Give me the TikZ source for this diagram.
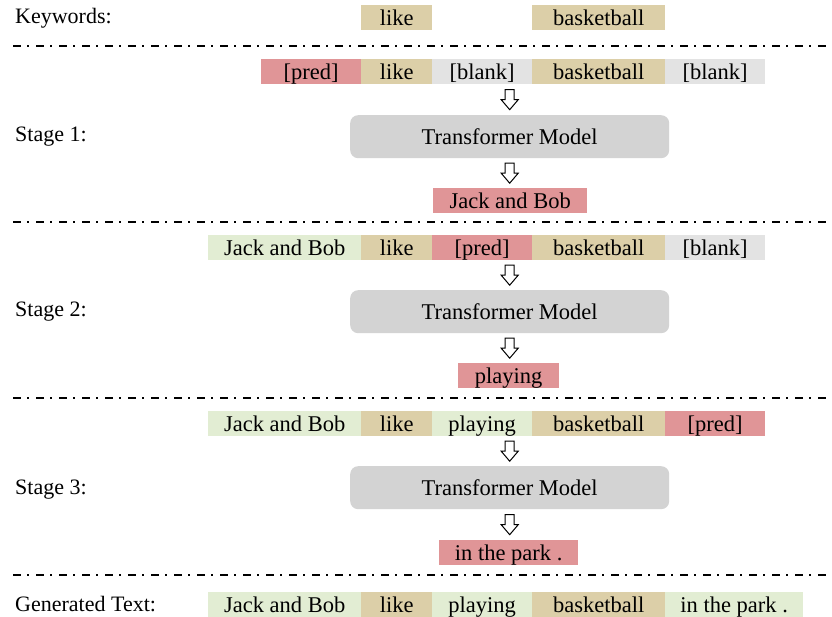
\documentclass[tikz,border=0pt]{standalone}
\usepackage{fontspec}
\setmainfont{Liberation Serif}
\usetikzlibrary{positioning,calc}
\definecolor{predc}{HTML}{E09597}
\definecolor{tanc}{HTML}{DCCFA8}
\definecolor{blankc}{HTML}{E3E3E3}
\definecolor{greenc}{HTML}{E2EDD3}
\definecolor{modelc}{HTML}{D3D3D3}
\tikzset{
  tok/.style={anchor=north west, inner sep=0pt, minimum height=25pt, text height=20pt, text depth=5pt, font=\fontsize{22.5}{25}\selectfont},
  model/.style={anchor=north west, inner sep=0pt, fill=modelc, rounded corners=8pt, minimum width=319pt, minimum height=43pt, font=\fontsize{22.5}{25}\selectfont},
  lbl/.style={anchor=west, inner sep=0pt, font=\fontsize{22}{25}\selectfont},
  sep/.style={line width=2pt, dash pattern=on 8pt off 6pt on 2pt off 7pt},
  barrow/.style={draw=black, fill=white, line width=1pt}
}
\newcommand{\tk}[6]{\node[tok, fill=#5, minimum width={#3-#2}] (#1) at (#2,#4) {#6};}
\newcommand{\blk}[1]{\draw[barrow] ($(#1)+(-4.5,-10)$) -- ($(#1)+(4.5,-10)$) -- ($(#1)+(4.5,0)$) -- ($(#1)+(8.5,0)$) -- ($(#1)+(0,10)$) -- ($(#1)+(-8.5,0)$) -- ($(#1)+(-4.5,0)$) -- cycle;}
\begin{document}
\begin{tikzpicture}[x=1pt,y=-1pt]
\useasboundingbox (0,0) rectangle (832,617);
% Keywords
\node[lbl] (lk) at (15,18) {Keywords:};
\tk{k1}{361}{432}{5}{tanc}{like}
\tk{k2}{532}{665}{5}{tanc}{basketball}
\coordinate (d1a) at (13,46); \coordinate (d1b) at (832,46);
\draw[sep] (d1a) -- (d1b);
% Stage 1
\node[lbl] (l1) at (15,137) {Stage 1:};
\tk{a1}{261}{361}{59}{predc}{[pred]}
\tk{a2}{361}{432}{59}{tanc}{like}
\tk{a3}{432}{532}{59}{blankc}{[blank]}
\tk{a4}{532}{665}{59}{tanc}{basketball}
\tk{a5}{665}{765}{59}{blankc}{[blank]}
\node[model] (m1) at (350,115) {Transformer Model};
\tk{o1}{433}{587}{188}{predc}{Jack and Bob}
\coordinate (ar1) at ($(m1.north)!0.5!(m1.north|-a1.south)$);
\blk{ar1}
\coordinate (ar2) at ($(m1.south)!0.5!(m1.south|-o1.north)$);
\blk{ar2}
\coordinate (d2a) at (13,222); \coordinate (d2b) at (832,222);
\draw[sep] (d2a) -- (d2b);
% Stage 2
\node[lbl] (l2) at (15,312) {Stage 2:};
\tk{b1}{208}{361}{235}{greenc}{Jack and Bob}
\tk{b2}{361}{432}{235}{tanc}{like}
\tk{b3}{432}{532}{235}{predc}{[pred]}
\tk{b4}{532}{665}{235}{tanc}{basketball}
\tk{b5}{665}{765}{235}{blankc}{[blank]}
\node[model] (m2) at (350,290) {Transformer Model};
\tk{o2}{458}{559}{363}{predc}{playing}
\coordinate (ar3) at ($(m2.north)!0.5!(m2.north|-b1.south)$);
\blk{ar3}
\coordinate (ar4) at ($(m2.south)!0.5!(m2.south|-o2.north)$);
\blk{ar4}
\coordinate (d3a) at (13,398); \coordinate (d3b) at (832,398);
\draw[sep] (d3a) -- (d3b);
% Stage 3
\node[lbl] (l3) at (15,490) {Stage 3:};
\tk{c1}{208}{361}{411}{greenc}{Jack and Bob}
\tk{c2}{361}{432}{411}{tanc}{like}
\tk{c3}{432}{532}{411}{greenc}{playing}
\tk{c4}{532}{665}{411}{tanc}{basketball}
\tk{c5}{665}{765}{411}{predc}{[pred]}
\node[model] (m3) at (350,466) {Transformer Model};
\tk{o3}{439}{578}{540}{predc}{in the park .}
\coordinate (ar5) at ($(m3.north)!0.5!(m3.north|-c1.south)$);
\blk{ar5}
\coordinate (ar6) at ($(m3.south)!0.5!(m3.south|-o3.north)$);
\blk{ar6}
\coordinate (d4a) at (13,575); \coordinate (d4b) at (832,575);
\draw[sep] (d4a) -- (d4b);
% Generated
\node[lbl] (lg) at (15,604) {Generated Text:};
\tk{g1}{208}{361}{592}{greenc}{Jack and Bob}
\tk{g2}{361}{432}{592}{tanc}{like}
\tk{g3}{432}{532}{592}{greenc}{playing}
\tk{g4}{532}{665}{592}{tanc}{basketball}
\tk{g5}{665}{803}{592}{greenc}{in the park .}
\end{tikzpicture}
\end{document}
